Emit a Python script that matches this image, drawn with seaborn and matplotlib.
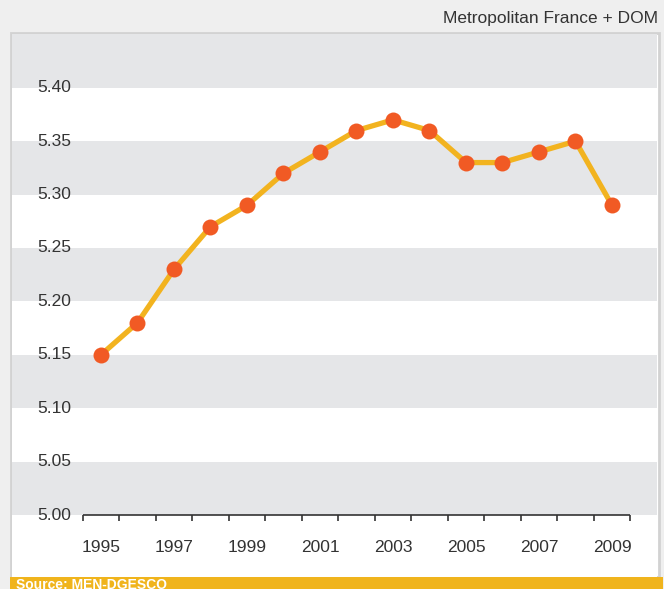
import numpy as np
import pandas as pd
import matplotlib
matplotlib.use("Agg")
import matplotlib.pyplot as plt
import matplotlib.patches as patches
import seaborn as sns

# Data
years = [1995, 1996, 1997, 1998, 1999, 2000, 2001, 2002, 2003, 2004, 2005, 2006, 2007, 2008, 2009]
values = [5.15, 5.18, 5.23, 5.27, 5.29, 5.32, 5.34, 5.36, 5.37, 5.36, 5.33, 5.33, 5.34, 5.35, 5.29]
y_ticks = [5.00, 5.05, 5.10, 5.15, 5.20, 5.25, 5.30, 5.35, 5.40]
subtitle = "Metropolitan France + DOM"
source = "Source: MEN-DGESCO"

sns.set_theme(style="white")
plt.rcParams["font.family"] = ["Liberation Sans Narrow", "Liberation Sans", "DejaVu Sans"]

W, H = 664, 589
fig = plt.figure(figsize=(W / 100, H / 100), dpi=100)
fig.patch.set_facecolor("#efefef")

# panel frame (figure pixel coords -> fractions)
def fx(px):
    return px / W

def fy(py):
    return 1 - py / H

fig.add_artist(patches.Rectangle((fx(11), fy(577)), fx(659) - fx(11), fy(33) - fy(577),
                                 transform=fig.transFigure, facecolor="white",
                                 edgecolor="#d2d2d2", linewidth=2, zorder=0))

ax = fig.add_axes([fx(12), fy(577), fx(657) - fx(12), fy(34) - fy(577)])
ax.set_facecolor("white")
for s in ax.spines.values():
    s.set_visible(False)

# data mapping: category i at pixel 101 + 36.5*i ; 5.00 at y=515, 0.05 per 53.4 px
step = 36.5
ax.set_xlim((12 - 101) / step, (657 - 101) / step)
ax.set_ylim(5.00 - (577 - 515) / 53.4 * 0.05, 5.00 + (515 - 34) / 53.4 * 0.05)
ymax = ax.get_ylim()[1]

# alternating bands
for lo in y_ticks[::2]:
    hi = lo + 0.05 if lo < 5.40 else ymax
    ax.axhspan(lo, hi, color="#e5e6e8", lw=0, zorder=0)

df = pd.DataFrame({"year": years, "value": values})
df["pos"] = np.arange(len(df))

sns.lineplot(data=df, x="pos", y="value", ax=ax, color="#f2b31f", linewidth=3.8,
             marker="o", markersize=11.5, markerfacecolor="#f15a24",
             markeredgewidth=0, zorder=3)
ax.set_xlabel("")
ax.set_ylabel("")
ax.set_xticks([])
ax.set_yticks([])

# x axis line and boundary ticks
n = len(years)
ax.hlines(5.00, -0.5, n - 0.5, color="#333333", lw=1.2, zorder=4)
ax.vlines(np.arange(n + 1) - 0.5, 5.00 - 0.006, 5.00, color="#333333", lw=1.2, zorder=4)

# year labels (odd years only)
for i, yr in enumerate(years):
    if yr % 2 == 1:
        ax.text(i, 5.00 - (547 - 515) / 53.4 * 0.05, str(yr), ha="center", va="center",
                fontsize=12.5, color="#333333")

# y labels
for v in y_ticks:
    ax.text((71 - 12) / 645, v, f"{v:.2f}", transform=ax.get_yaxis_transform(),
            ha="right", va="center", fontsize=12.5, color="#333333")

fig.text(fx(658), fy(19), subtitle, ha="right", va="center", fontsize=12.5, color="#333333")

# source bar at the bottom
fig.add_artist(patches.Rectangle((fx(10), 0), fx(663) - fx(10), fy(577),
                                 transform=fig.transFigure, facecolor="#f0b41c",
                                 edgecolor="none", zorder=1))
fig.text(fx(16), fy(578), source, ha="left", va="top", fontsize=10, fontweight="bold",
         color="white", zorder=2)

fig.savefig("out.png", dpi=100, facecolor=fig.get_facecolor())
